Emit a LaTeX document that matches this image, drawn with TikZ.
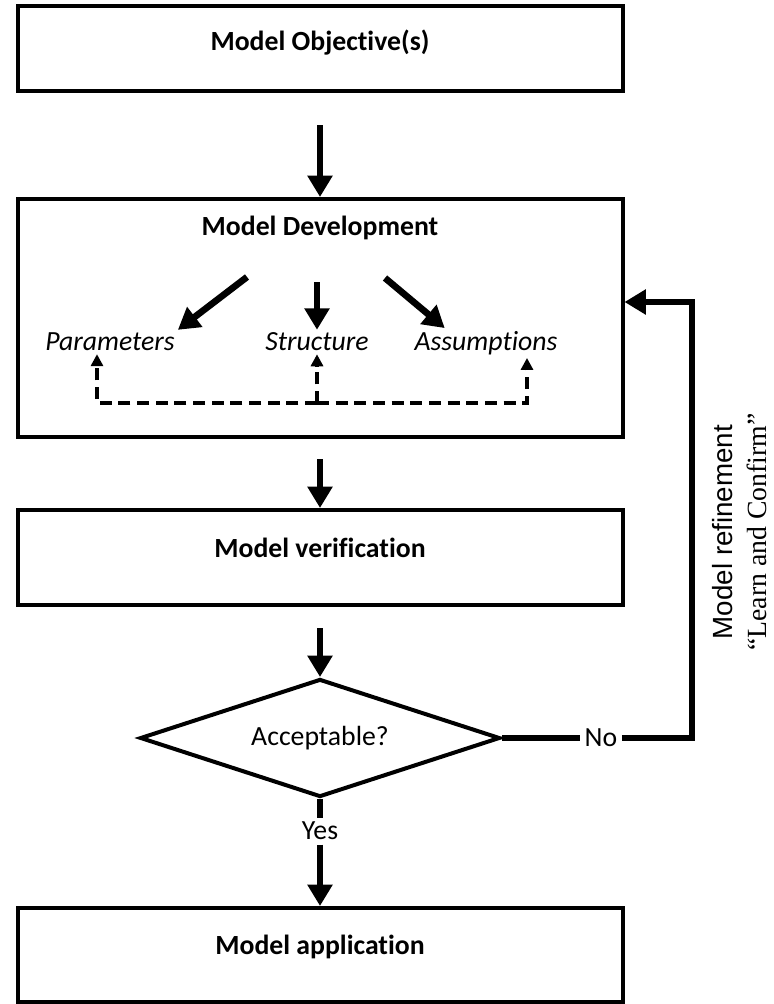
\documentclass[tikz,border=0pt]{standalone}
\usepackage{fontspec}
\setmainfont{Carlito}[Ligatures=NoCommon]
\newfontfamily\refinesans{Liberation Sans}
\newfontfamily\refineserif{Liberation Serif}
\usetikzlibrary{arrows.meta,shapes.geometric}

\tikzset{every picture/.style={line width=0.75pt}}
\tikzset{
  stage/.style={draw, line width=3pt, minimum width=453.75pt, inner sep=0pt},
  stagetitle/.style={font=\fontsize{20.8}{25}\selectfont\bfseries, inner sep=2pt},
  part/.style={font=\fontsize{20.8}{25}\selectfont\itshape, inner sep=2pt},
  plain/.style={font=\fontsize{20.8}{25}\selectfont, inner sep=3pt},
  flow/.style={line width=5pt, -{Triangle[width=18pt,length=16pt]}},
  flowline/.style={line width=5pt},
  loopback/.style={line width=3pt, dash pattern=on 9pt off 5pt, -{Triangle[width=9pt,length=9pt]}},
}

\begin{document}
\begin{tikzpicture}[x=0.75pt,y=0.75pt,yscale=-1,xscale=1]
\useasboundingbox (0,0) rectangle (774,1004);

%Shape: Rectangle
\node[stage, minimum height=63.75pt] (obj) at (320,48.5) {};
%Shape: Rectangle
\node[stage, minimum height=178.5pt] (dev) at (320,318) {};
%Shape: Rectangle
\node[stage, minimum height=71.25pt] (ver) at (320,557.5) {};
%Shape: Rectangle
\node[stage, minimum height=70.5pt] (app) at (320,955) {};
%Shape: Diamond
\node[plain, draw, diamond, line width=3pt, minimum width=270pt, minimum height=88.5pt, inner sep=0pt, shape aspect=3] (acc) at (320,738) {Acceptable?};

% Text Node
\node[stagetitle] (objtext) at (320,43) {Model Objective(s)};
% Text Node
\node[stagetitle] (devtext) at (320,228) {Model Development};
% Text Node
\node[stagetitle] (vertext) at (320,548) {Model verification};
% Text Node
\node[stagetitle] (apptext) at (320,947) {Model application};
% Text Node
\node[part] (params) at (110,342) {Parameters};
% Text Node
\node[part] (struct) at (317,342) {Structure};
% Text Node
\node[part] (assum) at (486,343) {Assumptions};
% Text Node
\node[plain] (no) at (601,738) {No};
% Text Node
\node[plain] (yes) at (320,831) {Yes};
% Text Node
\node[rotate=90, align=center, inner sep=0pt, font=\fontsize{20.8}{25.5}\selectfont] (refine) at (740,532) {{\refinesans Model refinement}\\{\refineserif “Learn and Confirm”}};

\coordinate (fanL) at (247,277);
\coordinate (fanM) at (317,282);
\coordinate (fanR) at (385,278);
\coordinate (dl) at (97,403);
\coordinate (dr) at (527,403);
\coordinate (corner) at (692,302);

%Straight Lines
\draw[flow, shorten <=24pt] (obj) -- (dev);
\draw[flow, shorten <=15pt] (dev) -- (ver);
\draw[flow, shorten <=16pt] (ver) -- (acc);
\draw[flowline] (acc.south) -- (yes.north);
\draw[flow] (yes) -- (app);
\draw[flowline] (acc.east) -- (acc.east -| no.west);
\draw[flow] (no.east) -| (corner) -- (corner -| dev.east);
%Straight Lines
\draw[flow] (fanL) -- (params.north east);
\draw[flow] (fanM) -- (struct);
\draw[flow] (fanR) -- ([xshift=25pt]assum.north west);
%Dashed Lines
\draw[loopback] (struct.south |- dl) -| (dl |- params.south);
\draw[loopback] (struct.south |- dl) -| (dr |- assum.south);
\draw[loopback] (struct.south |- dl) -- (struct.south);

\end{tikzpicture}
\end{document}
